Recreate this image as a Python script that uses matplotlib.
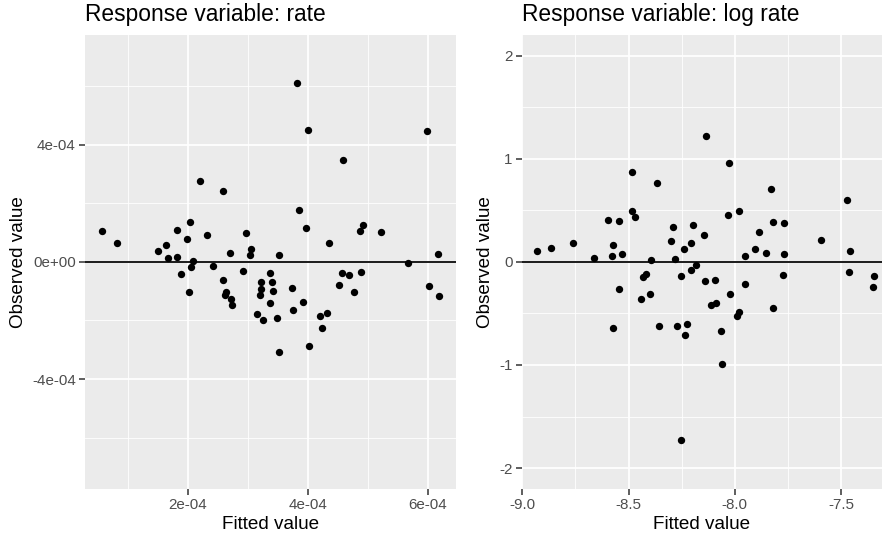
import matplotlib
matplotlib.use("Agg")
import matplotlib.pyplot as plt
from matplotlib.ticker import FixedLocator

plt.rcParams['font.family'] = ['Liberation Sans', 'DejaVu Sans']

# ---- Left panel data: response = rate (values in units of 1e-4) ----
rate_fitted_e4 = [3.817, 4.000, 5.983, 0.567, 0.817, 1.505, 1.638, 1.672, 1.817, 1.822,
                  1.983, 2.043, 2.088, 2.200, 2.327, 2.583, 2.710, 2.977, 3.060, 3.038,
                  3.527, 3.855, 3.967, 4.588, 4.360, 4.877, 4.927, 5.227, 5.672, 6.172,
                  1.893, 2.050, 2.027, 2.427, 2.593, 2.638, 2.627, 2.717, 2.738, 2.917,
                  3.150, 3.260, 3.217, 3.217, 3.200, 3.372, 3.400, 3.427, 3.372, 3.483,
                  3.522, 3.738, 3.750, 3.917, 4.017, 4.205, 4.327, 4.243, 4.517, 4.577,
                  4.688, 4.767, 4.883, 6.022, 6.193]
rate_observed_e4 = [6.10, 4.49, 4.46, 1.05, 0.63, 0.375, 0.58, 0.116, 1.07, 0.17,
                    0.774, 1.354, 0.024, 2.76, 0.91, 2.434, 0.297, 0.989, 0.443, 0.239,
                    0.239, 1.773, 1.139, 3.491, 0.648, 1.036, 1.241, 1.023, -0.055, 0.252,
                    -0.419, -0.191, -1.043, -0.136, -0.634, -1.023, -1.135, -1.272, -1.476, -0.327,
                    -1.783, -1.977, -0.702, -0.931, -1.146, -0.385, -0.682, -1.009, -1.408, -1.909,
                    -3.079, -0.886, -1.657, -1.374, -2.864, -1.841, -1.759, -2.260, -0.805, -0.395,
                    -0.453, -1.043, -0.341, -0.829, -1.159]
rate_fitted = [v * 1e-4 for v in rate_fitted_e4]
rate_observed = [v * 1e-4 for v in rate_observed_e4]

# ---- Right panel data: response = log rate ----
log_fitted = [-8.137, -8.028, -8.485, -8.367, -7.829, -7.473, -8.482, -8.468, -7.980, -8.033,
              -8.595, -8.545, -8.292, -8.195, -7.887, -7.821, -7.769, -8.145, -8.300, -8.206,
              -8.237, -7.594, -8.932, -8.865, -8.760, -8.572, -8.576, -8.529, -8.664, -8.396,
              -8.280, -7.953, -7.904, -7.854, -7.769, -7.457, -8.181, -8.206, -8.433, -8.418,
              -8.254, -8.545, -8.440, -8.400, -8.140, -8.091, -7.952, -8.024, -8.112, -8.087,
              -7.981, -7.988, -7.821, -7.773, -8.574, -8.356, -8.272, -8.226, -8.234, -8.066,
              -8.058, -7.462, -7.344, -7.349, -8.254]
log_observed = [1.219, 0.954, 0.873, 0.766, 0.705, 0.601, 0.492, 0.434, 0.492, 0.450,
                0.402, 0.395, 0.334, 0.359, 0.288, 0.385, 0.378, 0.259, 0.198, 0.184,
                0.123, 0.210, 0.107, 0.136, 0.181, 0.162, 0.058, 0.072, 0.033, 0.019,
                0.026, 0.058, 0.123, 0.087, 0.072, 0.107, -0.029, -0.081, -0.151, -0.119,
                -0.136, -0.268, -0.365, -0.316, -0.184, -0.180, -0.210, -0.316, -0.420, -0.403,
                -0.491, -0.527, -0.446, -0.126, -0.640, -0.621, -0.621, -0.607, -0.714, -0.675,
                -0.992, -0.103, -0.142, -0.248, -1.729]

# ---- ticks ----
left_xticks = [2e-4, 4e-4, 6e-4]
left_xticklabels = ["2e-04", "4e-04", "6e-04"]
left_yticks = [-4e-4, 0, 4e-4]
left_yticklabels = ["-4e-04", "0e+00", "4e-04"]
right_xticks = [-9.0, -8.5, -8.0, -7.5]
right_xticklabels = ["-9.0", "-8.5", "-8.0", "-7.5"]
right_yticks = [-2, -1, 0, 1, 2]
right_yticklabels = ["-2", "-1", "0", "1", "2"]

titles = ["Response variable: rate", "Response variable: log rate"]

W, H = 882, 539
fig = plt.figure(figsize=(W / 100, H / 100), dpi=100)

axL = fig.add_axes([85 / W, (H - 488.7) / H, 371 / W, 453.7 / H])
axR = fig.add_axes([521.7 / W, (H - 488.7) / H, (W - 521.7) / W, 453.7 / H])


def style(ax, xlim, ylim, xt, xtl, yt, ytl, xminor, yminor, title):
    ax.set_facecolor("#EBEBEB")
    for s in ax.spines.values():
        s.set_visible(False)
    ax.set_xlim(*xlim)
    ax.set_ylim(*ylim)
    ax.set_xticks(xt)
    ax.set_xticklabels(xtl)
    ax.set_yticks(yt)
    ax.set_yticklabels(ytl)
    ax.xaxis.set_minor_locator(FixedLocator(xminor))
    ax.yaxis.set_minor_locator(FixedLocator(yminor))
    ax.grid(True, which="major", color="white", linewidth=1.25)
    ax.grid(True, which="minor", color="white", linewidth=0.6)
    ax.set_axisbelow(True)
    ax.tick_params(which="major", direction="out", length=4, width=1.1,
                   color="#333333", labelcolor="#4D4D4D", labelsize=10.9, pad=2.5)
    ax.tick_params(which="minor", length=0)
    ax.set_xlabel("Fitted value", fontsize=13.6, color="black", labelpad=3)
    ax.set_ylabel("Observed value", fontsize=13.6, color="black", labelpad=4)
    ax.set_title(title, loc="left", fontsize=16.4, color="black", pad=10)


style(axL, (0.286e-4, 6.474e-4), (-7.74e-4, 7.74e-4),
      left_xticks, left_xticklabels, left_yticks, left_yticklabels,
      [1e-4, 3e-4, 5e-4], [-6e-4, -2e-4, 2e-4, 6e-4], titles[0])
style(axR, (-9.003, -7.3065), (-2.2, 2.2),
      right_xticks, right_xticklabels, right_yticks, right_yticklabels,
      [-8.75, -8.25, -7.75], [-1.5, -0.5, 0.5, 1.5], titles[1])

axL.axhline(0, color="#1A1A1A", linewidth=1.4, zorder=2)
axR.axhline(0, color="#1A1A1A", linewidth=1.4, zorder=2)

axL.scatter(rate_fitted, rate_observed, s=28, color="black", linewidths=0, zorder=3)
axR.scatter(log_fitted, log_observed, s=28, color="black", linewidths=0, zorder=3)

fig.savefig("out.png", dpi=100)
